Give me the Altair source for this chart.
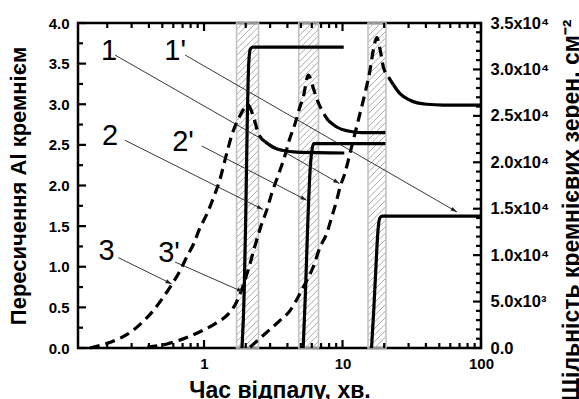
import math
import altair as alt
import pandas as pd

# ---------------- data ----------------
# Supersaturation of Al by silicon (left axis) vs annealing time, min
t_s3 = [0.15, 0.21, 0.28, 0.35, 0.43, 0.51, 0.59, 0.67, 0.75, 0.84, 0.94, 1.05, 1.17, 1.3, 1.45, 1.6, 1.75, 1.92, 2.08,
        2.27, 2.47, 2.76, 3.16, 3.74, 4.67, 10.3]
s3 = [0.0, 0.07, 0.17, 0.30, 0.46, 0.63, 0.79, 0.95, 1.12, 1.28, 1.49, 1.65, 1.85, 2.07, 2.38, 2.64, 2.80, 2.93, 2.99,
      2.85, 2.64, 2.54, 2.47, 2.43, 2.41, 2.40]
t_s2 = [0.39, 0.54, 0.75, 0.99, 1.23, 1.5, 1.7, 1.9, 2.1, 2.3, 2.6, 2.84, 3.08, 3.54, 3.84, 4.13, 4.54, 4.93, 5.21,
        5.66, 6.15, 6.51, 7.08, 7.89, 9.07, 11.0, 13.8, 20.4]
s2 = [0.01, 0.05, 0.13, 0.22, 0.31, 0.42, 0.55, 0.75, 0.98, 1.22, 1.52, 1.70, 1.90, 2.19, 2.37, 2.56, 2.76, 2.97, 3.09,
      3.36, 3.20, 3.07, 2.93, 2.80, 2.72, 2.67, 2.65, 2.65]
t_s1 = [2.15, 2.76, 3.54, 4.18, 4.93, 5.52, 6.15, 6.88, 7.69, 8.36, 9.08, 9.6, 10.4, 11.3, 12.3, 13.4, 14.5, 15.8,
        16.7, 17.7, 18.7, 19.7, 21.4, 23.3, 26.0, 30.7, 40.5, 53.5, 100]
s1 = [0.01, 0.175, 0.34, 0.46, 0.67, 0.83, 1.0, 1.24, 1.41, 1.61, 1.82, 1.98, 2.15, 2.39, 2.64, 2.89, 3.13, 3.42,
      3.67, 3.82, 3.67, 3.46, 3.34, 3.24, 3.13, 3.05, 3.00, 2.99, 2.99]
# time after which each supersaturation curve is drawn solid
s_solid_from = [2.76, 7.89, 23.3]

# Density of silicon grains, cm^-2 (right axis)
t_n3 = [1.88, 1.95, 2.0, 2.05, 2.1, 2.16, 2.25, 10.2]
n3 = [0, 6000, 14000, 24000, 30500, 32200, 32400, 32400]
t_n2 = [5.2, 5.4, 5.6, 5.8, 6.0, 6.2, 6.5, 20.4]
n2 = [0, 6000, 13000, 18500, 21200, 22000, 22000, 22000]
t_n1 = [16.2, 16.8, 17.4, 18.0, 18.6, 19.3, 100]
n1 = [0, 4000, 8500, 12500, 14000, 14200, 14200]

# annealing stages (hatched)
band_start = [1.717, 4.83, 15.28]
band_end = [2.475, 6.71, 20.6]

# curve labels: text position and arrow end (time, supersaturation units)
lab_text = ["1", "1'", "2", "2'", "3", "3'"]
lab_t = [0.206, 0.618, 0.21, 0.705, 0.198, 0.559]
lab_s = [3.55, 3.55, 2.50, 2.43, 1.08, 1.06]
arr_t0 = [0.2275, 0.730, 0.2685, 0.962, 0.2404, 0.618]
arr_s0 = [3.606, 3.606, 2.557, 2.487, 1.112, 1.058]
arr_t1 = [9.51, 67.1, 2.67, 5.51, 0.585, 1.92]
arr_s1 = [2.024, 1.674, 1.704, 1.818, 0.789, 0.689]

# axis ticks
x_major = [1, 10, 100]
x_minor = [k * 10 ** e for e in (-1, 0, 1) for k in range(2, 10)]
s_labels = [0.0, 0.5, 1.0, 1.5, 2.0, 2.5, 3.0, 3.5, 4.0]
s_minor = [0.25, 0.75, 1.25, 1.75, 2.25, 2.75, 3.25, 3.75]
n_labels = [0, 5000, 10000, 15000, 20000, 25000, 30000, 35000]
n_minor = [i * 1000 for i in range(36) if i % 5]

# ---------------- layout ----------------
FONT = "Liberation Sans"
W, H = 403, 325
T_MIN, T_MAX = 0.123, 100
S_MAX, N_MAX = 4.0, 35000
L0, L1 = math.log10(T_MIN), math.log10(T_MAX)
MAJOR_LEN, MINOR_LEN = 8, 5


def t_to_px(t):
    return W * (math.log10(t) - L0) / (L1 - L0)


def px_to_t(px):
    return 10 ** (L0 + px / W * (L1 - L0))


def s_to_py(s):
    return H * (1 - s / S_MAX)


def py_to_s(py):
    return S_MAX * (1 - py / H)


x_scale = alt.Scale(type="log", domain=[T_MIN, T_MAX], nice=False)
s_scale = alt.Scale(domain=[0, S_MAX], nice=False, zero=True)
n_scale = alt.Scale(domain=[0, N_MAX], nice=False, zero=True)

# ---------------- tables ----------------
curves = []
for name, ts, ss, cut in (("1", t_s1, s1, s_solid_from[2]), ("2", t_s2, s2, s_solid_from[1]),
                          ("3", t_s3, s3, s_solid_from[0])):
    for t, s in zip(ts, ss):
        if t <= cut:
            curves.append({"curve": name, "part": "dash", "t": t, "s": s})
        if t >= cut:
            curves.append({"curve": name, "part": "solid", "t": t, "s": s})
curves = pd.DataFrame(curves)
dash_df = curves[curves.part == "dash"]
tail_df = curves[curves.part == "solid"]

dens = pd.DataFrame(
    [{"curve": "1'", "t": t, "n": n} for t, n in zip(t_n1, n1)]
    + [{"curve": "2'", "t": t, "n": n} for t, n in zip(t_n2, n2)]
    + [{"curve": "3'", "t": t, "n": n} for t, n in zip(t_n3, n3)]
)

bands = pd.DataFrame({"a": band_start, "b": band_end})

# diagonal hatching inside each annealing band
HATCH_STEP = 6.5
hatch = []
for a, b in zip(band_start, band_end):
    xa, xb = t_to_px(a), t_to_px(b)
    c = 0.0
    while c < H + (xb - xa):
        x0 = max(xa, xa + c - H)
        x1 = min(xb, xa + c)
        if x1 > x0:
            hatch.append({"t": px_to_t(x0), "s": py_to_s(c - (x0 - xa)),
                          "t2": px_to_t(x1), "s2": py_to_s(c - (x1 - xa))})
        c += HATCH_STEP
hatch = pd.DataFrame(hatch)

labels = pd.DataFrame({"text": lab_text, "t": lab_t, "s": lab_s})
arrows = pd.DataFrame({"t0": arr_t0, "s0": arr_s0, "t1": arr_t1, "s1": arr_s1})
arrows["angle"] = [
    math.degrees(math.atan2(s_to_py(b1) - s_to_py(b0), t_to_px(a1) - t_to_px(a0))) % 360
    for a0, b0, a1, b1 in zip(arr_t0, arr_s0, arr_t1, arr_s1)
]

# inward tick marks along the frame, each one a two-point segment
s_ticks = []
n_ticks = []
k = 0
for v, ln in [(v, MAJOR_LEN) for v in x_major] + [(v, MINOR_LEN) for v in x_minor]:
    depth = ln / H * S_MAX
    s_ticks += [{"id": k, "t": v, "s": 0.0}, {"id": k, "t": v, "s": depth}]
    s_ticks += [{"id": k + 1, "t": v, "s": S_MAX}, {"id": k + 1, "t": v, "s": S_MAX - depth}]
    k += 2
for v, ln in [(v, MAJOR_LEN) for v in s_labels] + [(v, MINOR_LEN) for v in s_minor]:
    s_ticks += [{"id": k, "t": T_MIN, "s": v}, {"id": k, "t": px_to_t(ln), "s": v}]
    k += 1
for v, ln in [(v, MAJOR_LEN) for v in n_labels] + [(v, MINOR_LEN) for v in n_minor]:
    n_ticks += [{"id": k, "t": T_MAX, "n": v}, {"id": k, "t": px_to_t(W - ln), "n": v}]
    k += 1
s_ticks = pd.DataFrame(s_ticks)
n_ticks = pd.DataFrame(n_ticks)

# ---------------- axes ----------------
x_main_axis = alt.Axis(orient="bottom", values=x_major, format="d", ticks=False, domain=False, grid=False,
                       labelFont=FONT, labelFontSize=15, labelFontWeight="bold", labelColor="black",
                       labelPadding=8, labelFlush=False,
                       titleFont=FONT, titleFontSize=23, titleFontWeight="bold", titleColor="black",
                       titleX=W / 2, titleY=49, titleBaseline="alphabetic", titleAlign="center")

s_main_axis = alt.Axis(orient="left", values=s_labels, format=".1f", ticks=False, domain=False, grid=False,
                       labelFont=FONT, labelFontSize=15, labelFontWeight="bold", labelColor="black",
                       labelPadding=9,
                       titleFont=FONT, titleFontSize=22, titleFontWeight="bold", titleColor="black",
                       titleAngle=270, titleX=-60, titleY=H / 2, titleAlign="center", titleBaseline="middle")

n_main_axis = alt.Axis(orient="right", values=n_labels, ticks=False, domain=False, grid=False,
                       labelExpr="datum.value == 0 ? '0.0' : datum.value < 10000 ? "
                                 "format(datum.value / 1000, '.1f') + 'x10³' : "
                                 "format(datum.value / 10000, '.1f') + 'x10⁴'",
                       labelFont=FONT, labelFontSize=16.5, labelFontWeight="bold", labelColor="black",
                       labelPadding=9,
                       titleFont=FONT, titleFontSize=23, titleFontWeight="bold", titleColor="black",
                       titleAngle=270, titleX=90, titleY=187, titleAlign="center", titleBaseline="middle")

# ---------------- layers ----------------
hatch_layer = alt.Chart(hatch).mark_rule(color="#a0a0a0", strokeWidth=0.9).encode(
    x=alt.X("t:Q", scale=x_scale, axis=x_main_axis, title="Час відпалу, хв."),
    x2="t2:Q",
    y=alt.Y("s:Q", scale=s_scale, axis=s_main_axis, title="Пересичення Al кремнієм"),
    y2="s2:Q",
)

band_layer = alt.Chart(bands).mark_rect(fillOpacity=0, stroke="#c2c2c2", strokeWidth=1.6).encode(
    x=alt.X("a:Q", scale=x_scale, axis=None),
    x2="b:Q",
)

s_tick_layer = alt.Chart(s_ticks).mark_line(color="black", strokeWidth=2.2).encode(
    x=alt.X("t:Q", scale=x_scale, axis=None),
    y=alt.Y("s:Q", scale=s_scale, axis=None),
    detail="id:N",
)

n_tick_layer = alt.Chart(n_ticks).mark_line(color="black", strokeWidth=2.2).encode(
    x=alt.X("t:Q", scale=x_scale, axis=None),
    y=alt.Y("n:Q", scale=n_scale, axis=None),
    detail="id:N",
)

dash_layer = alt.Chart(dash_df).mark_line(
    color="black", strokeWidth=3.2, strokeDash=[10, 6], interpolate="monotone"
).encode(
    x=alt.X("t:Q", scale=x_scale, axis=None),
    y=alt.Y("s:Q", scale=s_scale, axis=None),
    detail="curve:N",
)

tail_layer = alt.Chart(tail_df).mark_line(color="black", strokeWidth=3.2, interpolate="monotone").encode(
    x=alt.X("t:Q", scale=x_scale, axis=None),
    y=alt.Y("s:Q", scale=s_scale, axis=None),
    detail="curve:N",
)

dens_layer = alt.Chart(dens).mark_line(color="black", strokeWidth=3.2, interpolate="monotone").encode(
    x=alt.X("t:Q", scale=x_scale, axis=None),
    y=alt.Y("n:Q", scale=n_scale, axis=n_main_axis, title="Щільність кремнієвих зерен, см⁻²"),
    detail="curve:N",
)

arrow_lines = alt.Chart(arrows).mark_rule(color="#222222", strokeWidth=0.9).encode(
    x=alt.X("t0:Q", scale=x_scale, axis=None),
    x2="t1:Q",
    y=alt.Y("s0:Q", scale=s_scale, axis=None),
    y2="s1:Q",
)

arrow_heads = alt.Chart(arrows).mark_point(
    shape="M0,0 L-2,-0.65 L-2,0.65 Z", filled=True, color="#222222", opacity=1, size=40, strokeWidth=0
).encode(
    x=alt.X("t1:Q", scale=x_scale, axis=None),
    y=alt.Y("s1:Q", scale=s_scale, axis=None),
    angle=alt.Angle("angle:Q", scale=None),
)

label_layer = alt.Chart(labels).mark_text(
    font=FONT, fontSize=29, align="center", baseline="alphabetic", color="black"
).encode(
    x=alt.X("t:Q", scale=x_scale, axis=None),
    y=alt.Y("s:Q", scale=s_scale, axis=None),
    text="text:N",
)

chart = (
    alt.layer(hatch_layer, band_layer, dash_layer, tail_layer, dens_layer,
              arrow_lines, arrow_heads, label_layer, s_tick_layer, n_tick_layer)
    .resolve_scale(y="independent")
    .resolve_axis(x="independent", y="independent")
    .properties(
        width=W, height=H,
        autosize=alt.AutoSizeParams(type="none"),
        padding={"left": 78, "top": 23, "right": 98, "bottom": 51},
        background="white",
    )
    .configure_view(stroke="black", strokeWidth=2.5)
)

chart.save("out.html", embed_options={"renderer": "svg", "actions": False})
